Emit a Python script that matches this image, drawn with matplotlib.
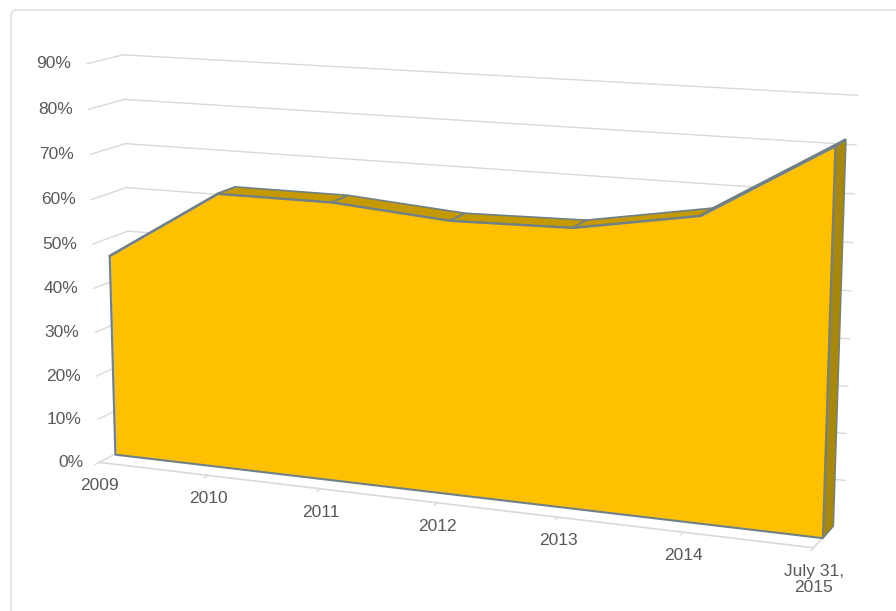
import matplotlib
matplotlib.use("Agg")
import matplotlib.pyplot as plt
from matplotlib.patches import FancyBboxPatch
from mpl_toolkits.mplot3d.art3d import Poly3DCollection
from mpl_toolkits.mplot3d import proj3d
import numpy as np

# data
categories = ['2009', '2010', '2011', '2012', '2013', '2014', 'July 31,\n2015']
values = [0.46, 0.62, 0.62, 0.60, 0.605, 0.65, 0.81]
tick_values = [0.0, 0.1, 0.2, 0.3, 0.4, 0.5, 0.6, 0.7, 0.8, 0.9]
tick_labels = ['0%', '10%', '20%', '30%', '40%', '50%', '60%', '70%', '80%', '90%']

FRONT = '#FFC000'
TOP = '#C49A00'
SIDE = '#A8880C'
EDGE = '#6F8087'
GRID = '#D9D9D9'
TXT = '#595959'

plt.rcParams['font.family'] = ['Liberation Sans', 'DejaVu Sans']

fig = plt.figure(figsize=(8.96, 6.11), dpi=100)
fig.patches.append(FancyBboxPatch((11, -20), 900, 621, transform=None,
                                  boxstyle='round,pad=0,rounding_size=6',
                                  fc='none', ec='#D9D9D9', lw=1, zorder=-10))
# the 3d axes is forced square, so make it larger than the figure to avoid clipping
ax = fig.add_axes([-0.111, -0.295, 1.2, 1.6], projection='3d', computed_zorder=False)
ax.patch.set_alpha(0)

n = len(values)
xs = np.arange(n)
xmax = n - 1
y0, y1 = 0.45, 1.0   # series depth
zmax = tick_values[-1]

# back wall and left wall gridlines
for v in tick_values[1:]:
    ax.plot([0, xmax + 0.08], [1, 1], [v, v], color=GRID, lw=1, zorder=1)
for v in tick_values:
    ax.plot([0, 0], [0, 1], [v, v], color=GRID, lw=1, zorder=1)

# floor
ax.plot([0, xmax], [0, 0], [0, 0], color=GRID, lw=1.2, zorder=1)
ax.plot([xmax, xmax], [0, 1], [0, 0], color=GRID, lw=1.2, zorder=1)
for x in xs:
    ax.plot([x, x], [0, -0.12], [0, 0], color=GRID, lw=1, zorder=1)

# top strips of the area
strips = []
for i in range(n - 1):
    strips.append([(xs[i], y0, values[i]), (xs[i + 1], y0, values[i + 1]),
                   (xs[i + 1], y1, values[i + 1]), (xs[i], y1, values[i])])
ax.add_collection3d(Poly3DCollection(strips, facecolor=TOP, edgecolor=EDGE,
                                     linewidths=1.2, zorder=2))

# right end cap
cap = [[(xmax, y0, 0), (xmax, y1, 0), (xmax, y1, values[-1]), (xmax, y0, values[-1])]]
ax.add_collection3d(Poly3DCollection(cap, facecolor=SIDE, edgecolor=EDGE,
                                     linewidths=1.2, zorder=3))

# front face
front = [(xs[0], y0, 0)] + [(x, y0, v) for x, v in zip(xs, values)] + [(xs[-1], y0, 0)]
ax.add_collection3d(Poly3DCollection([front], facecolor=FRONT, edgecolor=EDGE,
                                     linewidths=1.5, zorder=4))

ax.set_xlim(0, xmax)
ax.set_ylim(0, 1)
ax.set_zlim(0, zmax)
ax.set_box_aspect((6.2, 0.6, 3.4), zoom=0.879)
ax.view_init(elev=12.5, azim=-68)
ax.set_proj_type('persp', focal_length=0.5)
ax.set_axis_off()

# labels: project the 3d anchor points to the figure, then place flat text
fig.canvas.draw()


def to_fig(x, y, z, dx=0, dy=0):
    px, py, _ = proj3d.proj_transform(x, y, z, ax.M)
    disp = ax.transData.transform((px, py)) + np.array([dx, dy])
    return fig.transFigure.inverted().transform(disp)


for v, lab in zip(tick_values, tick_labels):
    fx, fy = to_fig(0, 0, v, dx=-16)
    fig.text(fx, fy, lab, ha='right', va='center', fontsize=12.5, color=TXT)
for x, lab in zip(xs, categories):
    fx, fy = to_fig(x, 0, 0, dy=-16)
    fig.text(fx, fy, lab, ha='center', va='top', fontsize=12.5, color=TXT,
             linespacing=1.1, multialignment='center')

fig.savefig('out.png', dpi=100)
